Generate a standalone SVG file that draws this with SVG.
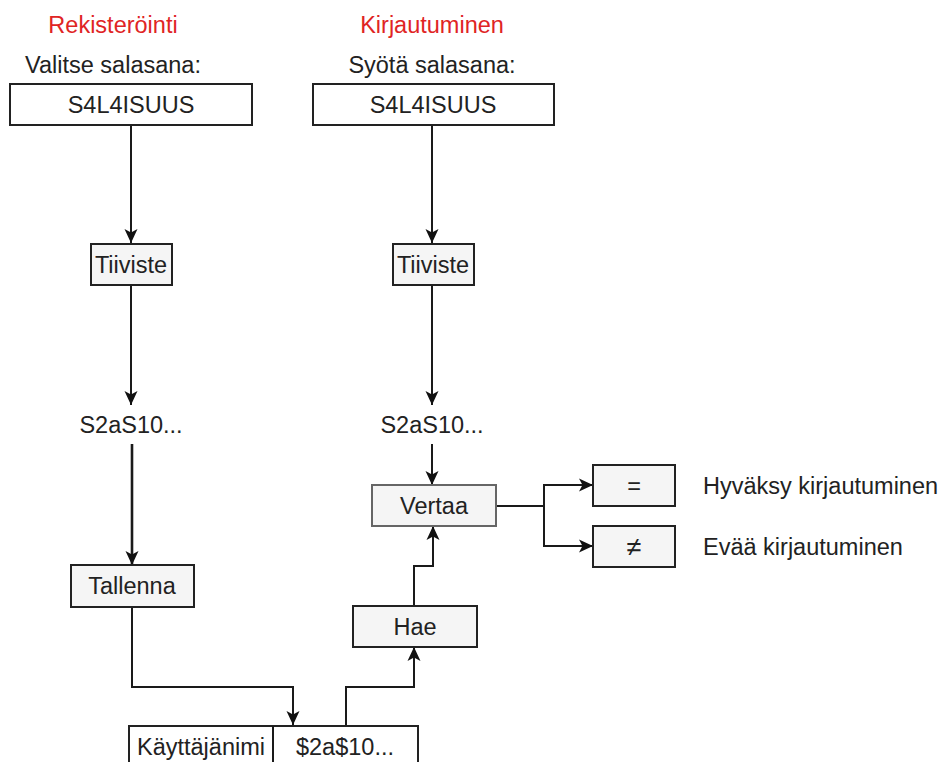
<svg xmlns="http://www.w3.org/2000/svg" width="947" height="762" viewBox="0 0 947 762">
<style>
text{font-family:"Liberation Sans",Arial,sans-serif;font-size:23.5px;fill:#222222;text-anchor:middle}
.title{fill:#e02424}
.wbox{fill:#ffffff;stroke:#222222;stroke-width:2}
.gbox{fill:#f5f5f5;stroke:#222222;stroke-width:2}
.edge{fill:none;stroke:#1a1a1a;stroke-width:2}
.thick{stroke-width:2.6}
.lt{text-anchor:start}
</style>
<defs>
<marker id="ah" viewBox="0 0 14 14" refX="14" refY="7" markerWidth="14" markerHeight="14" markerUnits="userSpaceOnUse" orient="auto">
<path d="M0,0.5 L14,7 L0,13.5 L3.5,7 Z" fill="#111"/>
</marker>
</defs>
<rect width="947" height="762" fill="#ffffff"/>

<g id="labels">
<text class="title" x="113" y="33">Rekisteröinti</text>
<text x="113" y="73">Valitse salasana:</text>
<text class="title" x="432" y="33">Kirjautuminen</text>
<text x="432" y="73">Syötä salasana:</text>
</g>

<g id="connectors">
<path class="edge" d="M131 125 V243" marker-end="url(#ah)"/>
<path class="edge" d="M131 285 V405" marker-end="url(#ah)"/>
<path class="edge thick" d="M132 444 V565" marker-end="url(#ah)"/>
<path class="edge" d="M132 607 V687 H293 V725" marker-end="url(#ah)"/>
<path class="edge" d="M346 726 V687 H414 V647" marker-end="url(#ah)"/>
<path class="edge" d="M414 606 V566 H433 V526" marker-end="url(#ah)"/>
<path class="edge" d="M432 125 V243" marker-end="url(#ah)"/>
<path class="edge" d="M432 285 V405" marker-end="url(#ah)"/>
<path class="edge" d="M432 444 V485" marker-end="url(#ah)"/>
<path class="edge" d="M496 506 H544 V485 H593" marker-end="url(#ah)"/>
<path class="edge" d="M544 506 V546 H593" marker-end="url(#ah)"/>
</g>

<g id="reg-password">
<rect class="wbox" x="10" y="84" width="242" height="41"/>
<text x="131" y="113">S4L4ISUUS</text>
</g>
<g id="login-password">
<rect class="wbox" x="313" y="84" width="241" height="41"/>
<text x="433" y="113">S4L4ISUUS</text>
</g>
<g id="reg-hash">
<rect class="gbox" x="91" y="244" width="81" height="41"/>
<text x="131" y="273">Tiiviste</text>
</g>
<g id="login-hash">
<rect class="gbox" x="393" y="244" width="81" height="41"/>
<text x="433" y="273">Tiiviste</text>
</g>
<g id="reg-hashvalue">
<text x="131" y="433">S2aS10...</text>
</g>
<g id="login-hashvalue">
<text x="432" y="433">S2aS10...</text>
</g>
<g id="save">
<rect class="gbox" x="71" y="565" width="123" height="42"/>
<text x="132" y="594">Tallenna</text>
</g>
<g id="compare">
<rect class="gbox" x="372" y="485" width="124" height="41" style="stroke:#666"/>
<text x="434" y="514">Vertaa</text>
</g>
<g id="fetch">
<rect class="gbox" x="353" y="606" width="124" height="41"/>
<text x="415" y="635">Hae</text>
</g>
<g id="equal">
<rect class="gbox" x="593" y="465" width="82" height="41"/>
<text x="634" y="494">=</text>
<text class="lt" x="703" y="494">Hyväksy kirjautuminen</text>
</g>
<g id="notequal">
<rect class="gbox" x="593" y="526" width="82" height="41"/>
<text x="634" y="556" style="font-size:27px">≠</text>
<text class="lt" x="703" y="555">Evää kirjautuminen</text>
</g>
<g id="database">
<rect class="wbox" x="129" y="726" width="289" height="44"/>
<line class="edge" x1="273" y1="726" x2="273" y2="770"/>
<text x="201" y="755">Käyttäjänimi</text>
<text x="345" y="755">$2a$10...</text>
</g>
</svg>
